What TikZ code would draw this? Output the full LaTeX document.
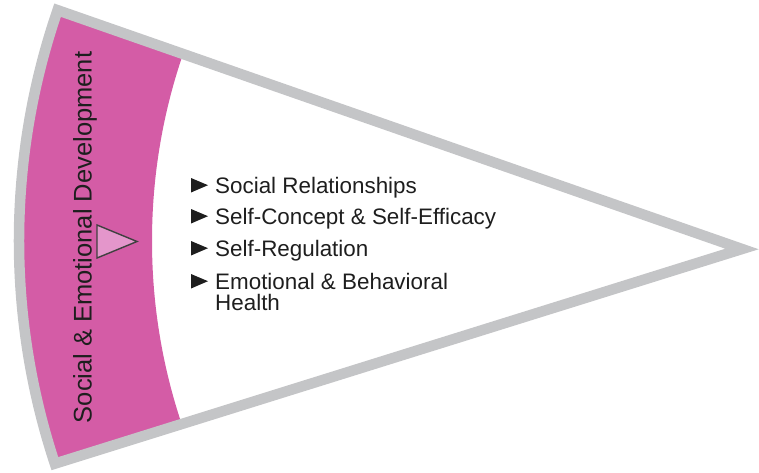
\documentclass[tikz,border=0pt]{standalone}
\usepackage{fontspec}
\setmainfont{Liberation Sans}
\definecolor{rimgray}{RGB}{196,197,199}
\definecolor{bandpink}{RGB}{212,92,166}
\definecolor{tripink}{RGB}{228,150,203}
\definecolor{txt}{RGB}{30,30,30}
\tikzset{
  itemtext/.style={anchor=base west, inner sep=0pt, text=txt, font=\fontsize{22.4}{21}\selectfont, align=left},
  bandtext/.style={rotate=90, anchor=base, inner sep=0pt, text=txt, font=\fontsize{25.5}{25.5}\selectfont},
  bullet/.style={fill=txt},
}
\begin{document}
\begin{tikzpicture}[x=1pt,y=1pt]
\useasboundingbox (0,0) rectangle (759,472);
\coordinate (ctr) at (728,231);
\coordinate (apex) at (742,223);
\coordinate (topc) at (57.6,461.8);
% pink band clipped to sector
\begin{scope}
  \clip (apex) -- (topc) arc[start angle=161,end angle=198.3,radius=709pt] -- cycle;
  \fill[bandpink, even odd rule] (ctr) circle[radius=740pt] (ctr) circle[radius=576pt];
\end{scope}
% outline
\draw[rimgray, line width=10.5pt, line join=miter] (apex) -- (topc) arc[start angle=161,end angle=198.3,radius=709pt] -- cycle;
% small triangle in band
\draw[fill=tripink, draw=txt!85, line width=1.4pt, line join=miter] (97,247) -- (137,230.5) -- (97,214) -- cycle;
% vertical label
\node[bandtext] (band) at (91.5,234.5) {Social \& Emotional Development};
% bullets and items
\foreach \yb/\yt/\nm/\tx in {279/279/i1/{Social Relationships}, 248/248/i2/{Self-Concept \& Self-Efficacy}, 216/216/i3/{Self-Regulation}, 183/162/i4/{Emotional \& Behavioral\\Health}}{
  \fill[bullet] (191,\yb+0.5) -- (208,\yb+7.8) -- (191,\yb+15) -- cycle;
  \node[itemtext] (\nm) at (215,\yt) {\tx};
}
\end{tikzpicture}
\end{document}
